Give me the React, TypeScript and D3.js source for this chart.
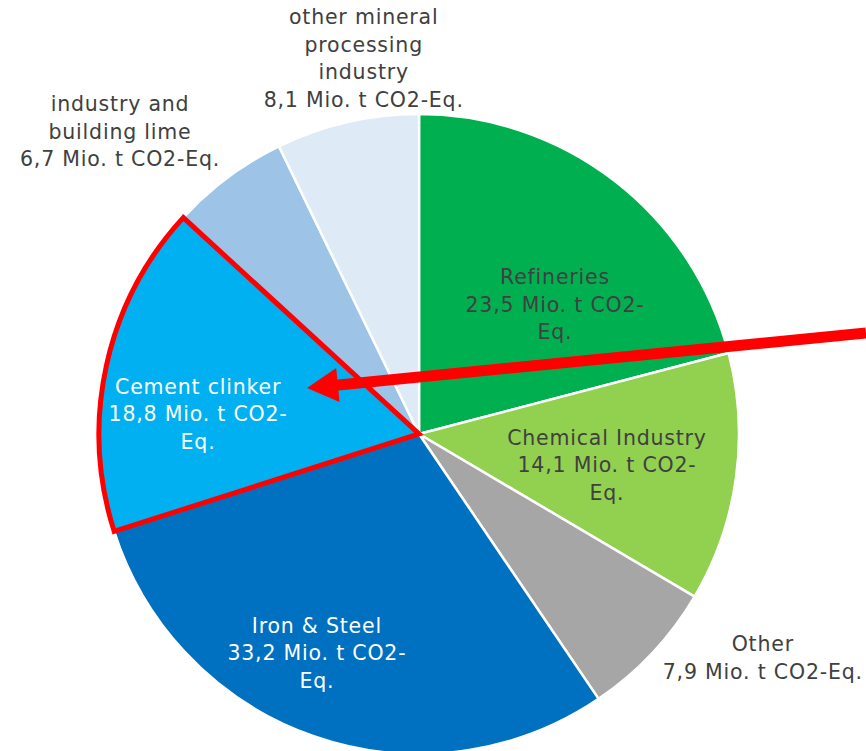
import React from "react";
import * as d3 from "d3";

const categories = [
  "Refineries",
  "Chemical Industry",
  "Other",
  "Iron & Steel",
  "Cement clinker",
  "industry and building lime",
  "other mineral processing industry",
];
const values = [23.5, 14.1, 7.9, 33.2, 18.8, 6.7, 8.1];
const colors = ["#00B050", "#92D050", "#A6A6A6", "#0070C0", "#00B0F0", "#9DC3E6", "#DEEBF7"];
const labelLines = [
  ["Refineries", "23,5 Mio. t CO2-", "Eq."],
  ["Chemical Industry", "14,1 Mio. t CO2-", "Eq."],
  ["Other", "7,9 Mio. t CO2-Eq."],
  ["Iron & Steel", "33,2 Mio. t CO2-", "Eq."],
  ["Cement clinker", "18,8 Mio. t CO2-", "Eq."],
  ["industry and", "building lime", "6,7 Mio. t CO2-Eq."],
  ["other mineral", "processing", "industry", "8,1 Mio. t CO2-Eq."],
];
const labelColors = ["#404040", "#404040", "#404040", "#FFFFFF", "#FFFFFF", "#404040", "#404040"];
// label placement in polar terms: radius as fraction of pie radius, angle in degrees clockwise from top
const labelRadius = [0.584, 0.596, 1.284, 0.758, 0.693, 1.326, 1.183];
const labelAngle = [46.7, 99.7, 123.2, 204.9, 274.9, 315.2, 351.6];

export default function App() {
  const W = 866, H = 751;
  const cx = 419, cy = 434, R = 320;
  const data = categories.map((c, i) => ({ c, v: values[i], i }));
  const pie = d3.pie<any>().value((d: any) => d.v).sort(null).startAngle(0).endAngle(2 * Math.PI);
  const arcs = pie(data);
  const arc = d3.arc<any>().innerRadius(0).outerRadius(R);
  const lh = 27.5;

  // arrow
  const ax0 = 866, ay0 = 333, ax1 = 307, ay1 = 388;
  const ang = Math.atan2(ay1 - ay0, ax1 - ax0);
  const headLen = 31, headW = 17;
  const bx = ax1 - headLen * Math.cos(ang), by = ay1 - headLen * Math.sin(ang);
  const px = -Math.sin(ang), py = Math.cos(ang);

  return (
    <svg width={W} height={H} style={{ position: "absolute", left: 0, top: 0 }}>
      <rect width={W} height={H} fill="#fff" />
      <g transform={`translate(${cx},${cy})`}>
        {arcs.map((a, i) => (
          <path key={i} d={arc(a) as string} fill={colors[i]} stroke="#fff" strokeWidth={2.5} strokeLinejoin="round" />
        ))}
        <path d={arc(arcs[4]) as string} fill="none" stroke="#FF0000" strokeWidth={5} strokeLinejoin="miter" />
        {arcs.map((a, i) => {
          const t = (labelAngle[i] * Math.PI) / 180;
          const r = R * labelRadius[i];
          const x = r * Math.sin(t);
          const y = -r * Math.cos(t);
          const lines = labelLines[i];
          const y0 = y - ((lines.length - 1) * lh) / 2;
          return (
            <text key={i} x={x} y={y0} fill={labelColors[i]} fontFamily="DejaVu Sans, Verdana, sans-serif" fontSize={20.5} letterSpacing={0.8} textAnchor="middle" dominantBaseline="middle">
              {lines.map((l, j) => (
                <tspan key={j} x={x} y={y0 + j * lh}>{l}</tspan>
              ))}
            </text>
          );
        })}
      </g>
      <line x1={ax0} y1={ay0} x2={bx + 2 * Math.cos(ang)} y2={by + 2 * Math.sin(ang)} stroke="#FF0000" strokeWidth={11} />
      <polygon
        points={`${ax1},${ay1} ${bx + px * headW},${by + py * headW} ${bx - px * headW},${by - py * headW}`}
        fill="#FF0000"
      />
    </svg>
  );
}
